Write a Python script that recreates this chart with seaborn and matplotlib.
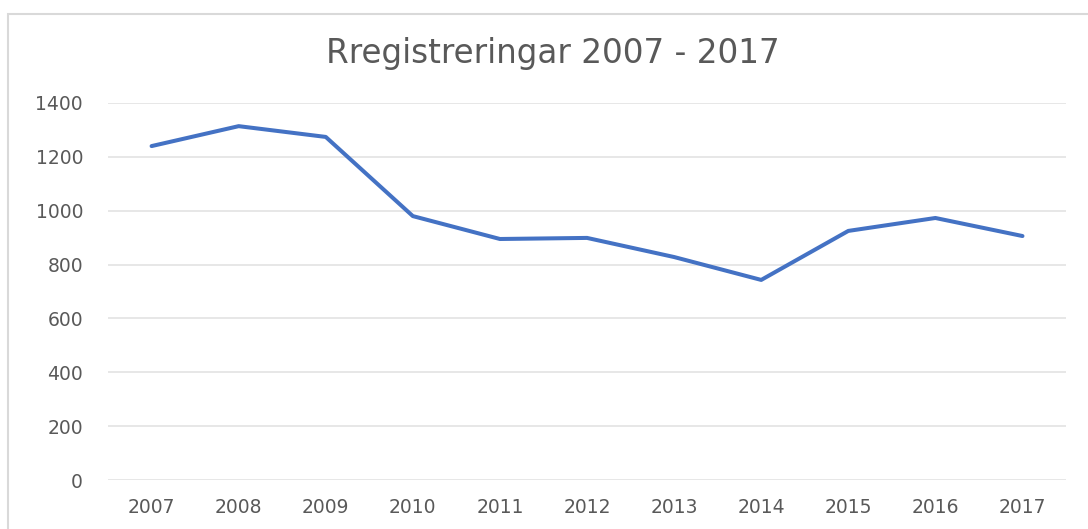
import pandas as pd
import numpy as np
import matplotlib.pyplot as plt
import seaborn as sns
from matplotlib.patches import Rectangle

# data
years = [2007, 2008, 2009, 2010, 2011, 2012, 2013, 2014, 2015, 2016, 2017]
registreringar = [1240, 1314, 1274, 980, 895, 899, 828, 743, 925, 973, 906]
y_ticks = [0, 200, 400, 600, 800, 1000, 1200, 1400]

df = pd.DataFrame({'year': years, 'count': registreringar})

sns.set_theme(style='white')
plt.rcParams['font.family'] = ['DejaVu Sans']

fig = plt.figure(figsize=(10.88, 5.29), dpi=100)
ax = fig.add_axes([0.0993, 0.0926, 0.8805, 0.7127])

sns.lineplot(data=df, x='year', y='count', ax=ax, color='#4472C4', linewidth=2.9)

ax.set_xlim(2006.5, 2017.5)
ax.set_ylim(0, 1400)
ax.set_xticks(years)
ax.set_yticks(y_ticks)
ax.yaxis.grid(True, color='#e3e3e3', linewidth=1.2)
ax.set_axisbelow(True)
for s in ax.spines.values():
    s.set_visible(False)
ax.tick_params(axis='x', length=0, pad=13, labelsize=13.5, labelcolor='#595959')
ax.tick_params(axis='y', length=0, pad=18, labelsize=13.5, labelcolor='#595959')
ax.set_xlabel('')
ax.set_ylabel('')

fig.text(0.508, 0.898, 'Rregistreringar 2007 - 2017', ha='center', va='center',
         fontsize=23.5, color='#595959', family='DejaVu Sans')

# outer chart border (cut off at right and bottom like the screenshot)
fig.patches.append(Rectangle((8 / 1088, -0.05), 1.2, 0.05 + 1 - 14 / 529,
                             transform=fig.transFigure, fill=False,
                             edgecolor='#d9d9d9', linewidth=1.5))

fig.savefig('out.png', dpi=100)
